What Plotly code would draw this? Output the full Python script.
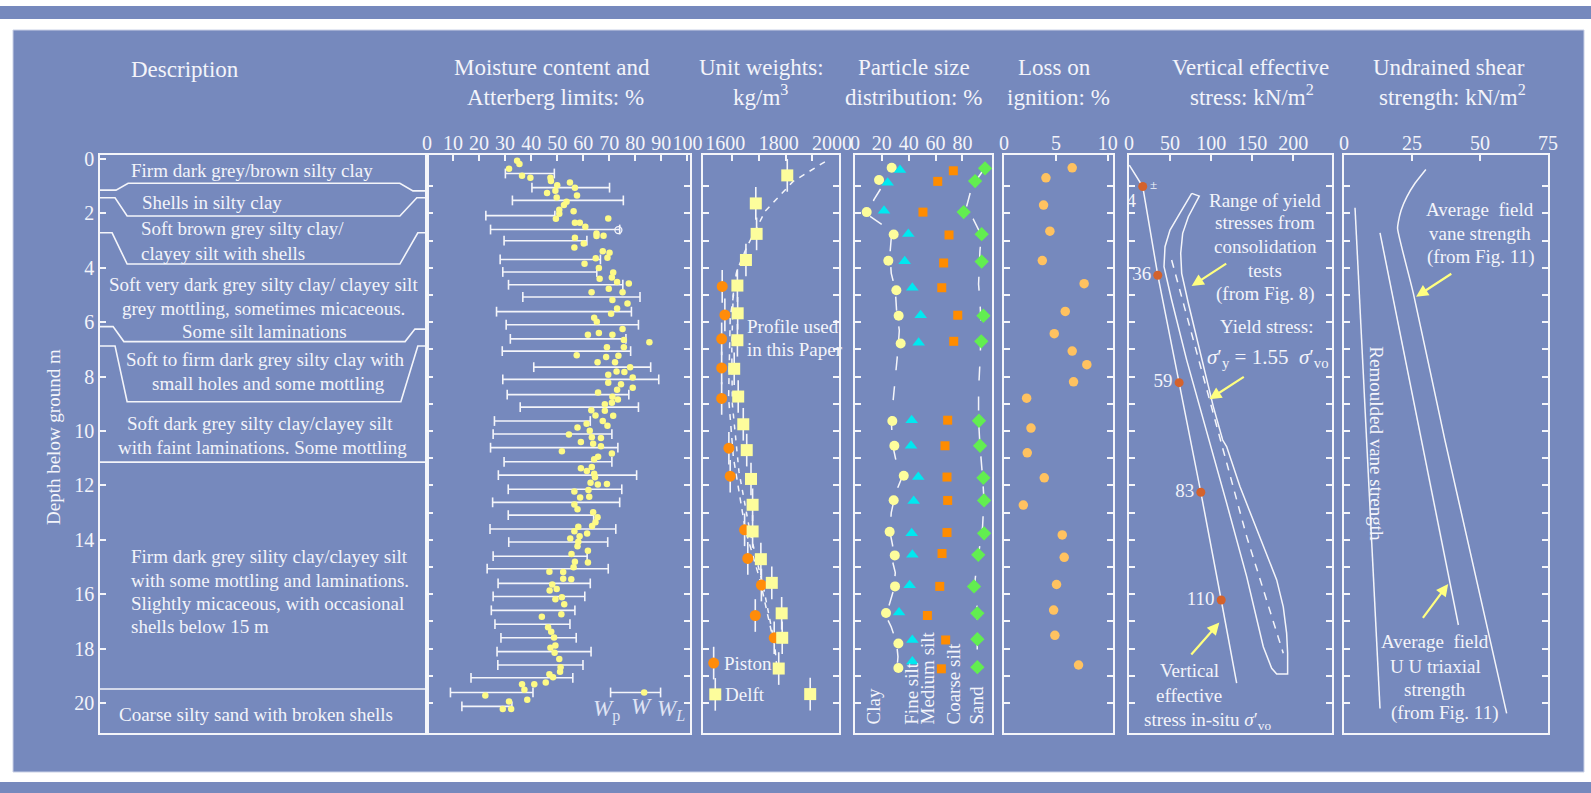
import plotly.graph_objects as go

W, H = 1591, 793
SERIF = "Liberation Serif"
TXT = "#f3f4fa"
LINE = "#f4f5fa"
BLUE = "#7689bd"
ARROW = "#ffff80"

# ---------------- data ----------------
depth_range = [21.1, -0.15]
depth_label_ticks = [0, 2, 4, 6, 8, 10, 12, 14, 16, 18, 20]
depth_minor_ticks = list(range(1, 21))

# Description: layer boundaries (x as fraction of panel width, depth m)
bound_x = [
    [0, 0.049, 0.086, 0.917, 0.957, 1],
    [0, 0.046, 0.083, 0.917, 0.969, 1],
    [0, 0.037, 0.083, 0.917, 0.972, 1],
    [0, 0.040, 0.073, 0.933, 0.963, 1],
    [0, 0.046, 0.083, 0.920, 0.972, 1],
    [0, 1],
    [-0.006, 1],
]
bound_d = [
    [1.14, 1.14, 0.89, 0.89, 1.17, 1.17],
    [1.42, 1.42, 2.09, 2.09, 1.42, 1.42],
    [2.71, 2.71, 3.86, 3.86, 2.71, 2.71],
    [6.16, 6.16, 6.71, 6.71, 6.25, 6.25],
    [6.87, 6.87, 8.92, 8.92, 6.87, 6.87],
    [11.14, 11.14],
    [19.48, 19.48],
]
desc_lines = [
    "Firm dark grey/brown silty clay",
    "Shells in silty clay",
    "Soft brown grey silty clay/",
    "clayey silt with shells",
    "Soft very dark grey silty clay/ clayey silt",
    "grey mottling, sometimes micaceous.",
    "Some silt laminations",
    "Soft to firm dark grey silty clay with",
    "small holes and some mottling",
    "Soft dark grey silty clay/clayey silt",
    "with faint laminations. Some mottling",
    "Firm dark grey sility clay/clayey silt",
    "with some mottling and laminations.",
    "Slightly micaceous, with occasional",
    "shells below 15 m",
    "Coarse silty sand with broken shells",
]

# Moisture content (natural water content %)
wn_value = [34.6, 35.5, 31.5, 36.5, 39.7, 47.4, 47.6, 54.9, 50.0, 56.8,
            49.3, 46.1, 57.6, 49.8, 53.6, 52.6, 50.8, 56.3, 50.8, 49.5,
            69.6, 56.8, 58.7, 60.8, 65.1, 65.1, 67.8, 56.8, 60.2, 56.6,
            67.5, 70.1, 64.8, 69.3, 60.5, 66.0, 71.5, 71.0, 66.3, 73.0,
            77.5, 69.8, 75.1, 63.2, 71.2, 77.0, 73.0, 70.7, 64.2, 65.2,
            75.1, 66.0, 61.8, 71.2, 75.6, 85.4, 75.6, 69.1, 57.5, 68.8,
            73.5, 65.5, 72.2, 78.0, 72.8, 75.8, 69.6, 79.0, 69.6, 74.5,
            79.0, 73.0, 65.7, 71.2, 73.3, 68.3, 71.0, 63.1, 68.3, 71.5,
            64.7, 67.5, 61.3, 69.3, 57.8, 62.5, 54.5, 63.3, 66.8, 59.1,
            63.8, 66.8, 51.8, 71.0, 65.7, 64.2, 63.3, 59.1, 61.4, 64.2,
            64.5, 62.8, 65.6, 69.1, 62.0, 56.6, 62.3, 58.8, 56.6, 57.8,
            63.8, 65.5, 64.7, 63.4, 58.1, 56.6, 61.5, 58.6, 55.0, 58.1,
            57.8, 61.8, 55.5, 61.8, 56.8, 56.3, 47.0, 52.3, 52.3, 55.4,
            48.1, 47.1, 49.8, 51.8, 49.3, 52.7, 51.6, 44.1, 46.5, 47.7,
            48.8, 49.3, 47.4, 49.0, 50.8, 51.3, 51.1, 47.0, 48.4, 45.6,
            41.2, 36.5, 37.4, 22.4, 38.5, 31.5, 29.1, 32.3]
wn_depth = [0.06, 0.18, 0.36, 0.61, 0.69, 0.69, 0.81, 0.86, 0.96, 1.05,
            1.16, 1.25, 1.34, 1.41, 1.57, 1.69, 1.86, 1.92, 2.01, 2.19,
            2.18, 2.34, 2.34, 2.49, 2.74, 2.83, 2.82, 2.89, 3.10, 3.25,
            3.39, 3.44, 3.65, 3.63, 3.85, 4.00, 4.17, 4.35, 4.40, 4.52,
            4.57, 4.77, 4.90, 4.90, 5.18, 5.31, 5.49, 5.69, 5.83, 5.98,
            6.25, 6.39, 6.46, 6.46, 6.65, 6.73, 6.92, 6.92, 7.21, 7.28,
            7.23, 7.47, 7.47, 7.65, 7.81, 7.83, 7.93, 8.03, 8.22, 8.28,
            8.41, 8.48, 8.58, 8.74, 8.84, 9.01, 8.96, 9.23, 9.25, 9.44,
            9.43, 9.63, 9.73, 9.80, 9.87, 9.99, 10.13, 10.23, 10.25, 10.40,
            10.47, 10.56, 10.74, 10.82, 10.94, 11.04, 11.32, 11.37, 11.47, 11.57,
            11.70, 11.90, 11.96, 11.95, 12.17, 12.22, 12.41, 12.44, 12.70, 12.87,
            12.98, 13.17, 13.35, 13.49, 13.52, 13.68, 13.77, 13.87, 13.95, 14.07,
            14.23, 14.40, 14.52, 14.83, 14.80, 15.01, 15.17, 15.18, 15.43, 15.45,
            15.64, 15.86, 15.81, 16.11, 16.18, 16.37, 16.73, 16.83, 17.21, 17.38,
            17.59, 17.88, 17.97, 18.15, 18.38, 18.68, 18.85, 18.94, 19.05, 19.24,
            19.31, 19.31, 19.51, 19.72, 19.88, 19.94, 20.22, 20.22]
# Atterberg limits: plastic limit Wp, liquid limit WL
lim_depth = [0.53, 1.05, 1.52, 2.08, 2.59, 3.00, 3.69, 4.15, 4.62, 5.07,
             5.61, 6.09, 6.61, 7.06, 7.65, 8.10, 8.66, 9.12, 9.63, 10.11,
             10.61, 11.13, 11.62, 12.14, 12.62, 13.09, 13.60, 14.08, 14.60, 15.06,
             15.60, 16.08, 16.59, 17.10, 17.60, 18.11, 18.60, 19.07, 19.61, 20.12]
wp = [30.1, 40.3, 32.8, 22.6, 24.4, 29.6, 28.1, 29.1, 31.3, 36.8,
      26.7, 30.4, 32.0, 28.9, 41.0, 29.1, 30.8, 35.8, 25.9, 25.4,
      24.4, 29.6, 27.4, 31.2, 25.2, 31.2, 24.2, 31.4, 25.4, 23.1,
      27.3, 25.4, 24.7, 26.1, 28.4, 26.9, 27.2, 16.9, 9.0, 13.4]
wl = [48.9, 70.1, 75.4, 49.1, 74.0, 61.4, 66.6, 65.2, 75.2, 81.8,
      78.5, 81.2, 76.4, 78.2, 85.9, 89.0, 77.5, 81.2, 62.7, 71.0,
      73.3, 71.0, 80.5, 74.8, 74.0, 64.0, 72.5, 69.4, 61.5, 69.6,
      62.7, 60.6, 56.8, 54.9, 57.3, 63.0, 59.9, 56.0, 40.7, 32.6]
wl_open_value = [73.5]
wl_open_depth = [2.61]
key_limits = [70.5, 89.7]
key_wn = [83.4]
key_depth = [19.61]

# Unit weights kg/m3
delft_uw = [1806, 1688, 1691, 1651, 1619, 1620, 1619, 1607, 1622, 1641,
            1654, 1670, 1676, 1676, 1707, 1748, 1785, 1787, 1774, 1892]
delft_depth = [0.60, 1.63, 2.75, 3.71, 4.65, 5.67, 6.66, 7.71, 8.73, 9.75,
               10.70, 11.76, 12.71, 13.69, 14.71, 15.58, 16.70, 17.60, 18.73, 19.67]
piston_uw = [1562, 1572, 1560, 1560, 1560, 1587, 1592, 1646, 1658, 1709, 1686, 1757]
piston_depth = [4.68, 5.73, 6.61, 7.68, 8.80, 10.63, 11.66, 13.63, 14.68, 15.66, 16.78, 17.60]
profile_uw = [1947, 1828, 1723, 1654, 1617, 1592, 1586, 1604, 1648, 1704, 1760, 1766]
profile_depth = [0.10, 0.82, 1.92, 3.24, 4.11, 5.86, 8.78, 10.97, 13.59, 15.49, 17.97, 18.6]
profile2_uw = [1617, 1603, 1598, 1600, 1625, 1668, 1718, 1752]
profile2_depth = [4.11, 5.0, 7.0, 9.0, 11.5, 13.8, 15.8, 17.5]
key_piston = [1530, 18.53]
key_delft = [1536, 19.68]

# Particle size distribution (cumulative %)
clay_v = [27.3, 17.9, 8.7, 28.8, 24.8, 30.8, 32.5, 34.0, 27.8, 29.3, 36.3, 28.8, 25.8, 29.6, 29.8, 23.1, 32.3, 32.3]
clay_d = [0.32, 0.77, 1.95, 2.77, 3.74, 4.82, 5.76, 6.78, 9.63, 10.54, 11.64, 12.54, 13.70, 14.57, 15.71, 16.69, 17.81, 18.71]
fine_v = [33.5, 24.3, 21.6, 39.7, 37.0, 42.7, 48.9, 47.4, 42.2, 41.7, 47.1, 43.7, 42.2, 42.7, 40.7, 32.8, 42.7, 42.7]
fine_d = [0.40, 0.87, 1.90, 2.75, 3.76, 4.73, 5.74, 6.75, 9.60, 10.54, 11.69, 12.57, 13.76, 14.55, 15.67, 16.67, 17.68, 18.47]
med_v = [73.2, 61.6, 50.6, 70.0, 66.0, 64.6, 76.5, 73.5, 69.0, 67.0, 68.5, 69.0, 68.5, 64.8, 63.1, 53.9, 67.5, 64.3]
med_d = [0.43, 0.82, 1.95, 2.79, 3.82, 4.73, 5.74, 6.70, 9.60, 10.54, 11.69, 12.55, 13.73, 14.50, 15.71, 16.78, 17.68, 18.74]
coarse_v = [96.8, 89.4, 80.9, 94.3, 94.3, 95.6, 94.0, 92.3, 93.1, 95.6, 96.1, 96.1, 91.8, 88.6, 91.1, 91.1, 91.1]
coarse_d = [0.34, 0.81, 1.95, 2.76, 3.77, 5.76, 6.70, 9.62, 10.54, 11.72, 12.55, 13.76, 14.55, 15.71, 16.70, 17.65, 18.68]
clay_line_v = [19, 14, 11, 20, 27, 26, 27, 30, 31, 33, 32, 30, 28, 27, 28, 31, 35, 30, 27, 26, 28, 28, 30, 29, 26, 23, 27, 31, 32, 31]
clay_line_d = [1.1, 1.5, 2.1, 2.4, 2.9, 3.5, 4.2, 4.8, 5.6, 6.3, 7.0, 8.0, 9.0, 9.6, 10.5, 11.2, 11.7, 12.3, 13.0, 13.7, 14.2, 14.8, 15.2, 15.8, 16.3, 16.8, 17.2, 17.8, 18.3, 18.9]
sand_line_v = [97, 90, 86, 82, 88, 94, 93, 92, 93, 94, 93, 92, 92, 93, 95, 96, 95, 92, 90, 89, 91, 91, 91]
sand_line_d = [0.3, 0.8, 1.2, 1.95, 2.2, 2.8, 3.4, 4.6, 5.2, 6.2, 7.5, 8.5, 9.6, 10.5, 11.7, 12.5, 13.5, 14.5, 15.2, 15.7, 16.5, 17.6, 18.8]
psd_labels = ["Clay", "Fine silt", "Medium silt", "Coarse silt", "Sand"]

# Loss on ignition %
loi_v = [6.57, 4.04, 3.81, 4.42, 3.69, 7.72, 5.90, 4.84, 6.57, 7.98, 6.70, 2.18, 2.60,
         2.24, 3.88, 1.86, 5.61, 5.80, 5.06, 4.78, 4.90, 7.18]
loi_d = [0.32, 0.69, 1.69, 2.65, 3.73, 4.58, 5.60, 6.42, 7.06, 7.56, 8.19, 8.79, 9.89,
         10.80, 11.72, 12.72, 13.82, 14.64, 15.64, 16.58, 17.51, 18.60]

# Vertical effective stress kN/m2
insitu_v = [0.4, 16.7, 35, 61, 87.4, 112.2, 131]
insitu_d = [0.22, 1.01, 4.27, 8.22, 12.25, 16.21, 19.27]
pt_v = [16.7, 35, 61, 87.4, 112.2]
pt_d = [1.01, 4.27, 8.22, 12.25, 16.21]
pt_labels = ["4", "36", "59", "83", "110"]
env_v = [76.3, 85.5, 72.2, 65.3, 62.9, 64.1, 72.2, 86.3, 102.6, 114, 118.8, 135, 151.2, 167.5,
         179.7, 187.7, 191.8, 193, 193, 179.7, 173.6, 163.4, 143.2, 118.8, 90.4, 70.2, 51.9,
         42.6, 43.8, 49.9, 62, 76.3]
env_d = [1.26, 1.36, 2.12, 2.73, 3.46, 4.20, 5.30, 7.02, 9.10, 10.33, 10.57, 12.04, 13.27, 14.49,
         15.47, 16.46, 17.43, 18.17, 18.93, 18.93, 18.72, 17.93, 15.35, 12.65, 9.59, 7.39, 5.18,
         3.96, 3.22, 2.61, 1.99, 1.26]
yield_v = [51.9, 98.5, 143.2, 187.7]
yield_d = [3.71, 8.86, 13.88, 18.17]

# Undrained shear strength kN/m2
remould_v = [4.05, 13.24]
remould_d = [1.79, 20.2]
uu_v = [13.24, 42.06]
uu_d = [2.71, 17.13]
vane_v = [30.1, 26.1, 23.1, 21.0, 20.0, 19.7, 25.5, 37.1, 59.8]
vane_d = [0.38, 0.89, 1.39, 1.88, 2.3, 2.55, 4.94, 10.33, 20.38]

# ---------------- layout helpers ----------------
Y_TOP, Y_BOT = 155, 733
YDOM = [1 - Y_BOT / H, 1 - Y_TOP / H]
panels = [  # (left px, right px)
    (100, 427), (427, 690), (703, 839), (855, 992), (1004, 1113), (1129, 1332), (1344, 1548)
]


def px(x):
    return x / W


def py(y):
    return 1 - y / H


fig = go.Figure()


def xname(i):
    return "x" if i == 1 else f"x{i}"


def yname(i):
    return "y" if i == 1 else f"y{i}"


def add(trace, i):
    trace.update(xaxis=xname(i), yaxis=yname(i), showlegend=False, hoverinfo="skip")
    fig.add_trace(trace)


# Description boundaries
for bx, bd in zip(bound_x, bound_d):
    add(go.Scatter(x=bx, y=bd, mode="lines", line=dict(color=LINE, width=1.6)), 1)

# Moisture: Atterberg range bars
ex, ey = [], []
for d, a, b in zip(lim_depth, wp, wl):
    ex += [a, b, None]
    ey += [d, d, None]
add(go.Scatter(x=ex, y=ey, mode="lines+markers", line=dict(color=LINE, width=1.6),
               marker=dict(symbol="line-ns", size=7, line=dict(color=LINE, width=1.6))), 2)
add(go.Scatter(x=key_limits, y=key_depth * 2, mode="lines+markers", line=dict(color=LINE, width=1.6),
               marker=dict(symbol="line-ns", size=7, line=dict(color=LINE, width=1.6))), 2)
add(go.Scatter(x=wn_value, y=wn_depth, mode="markers",
               marker=dict(size=6.5, color="#fdfa86")), 2)
add(go.Scatter(x=key_wn, y=key_depth, mode="markers", marker=dict(size=6.5, color="#fdfa86")), 2)
add(go.Scatter(x=wl_open_value, y=wl_open_depth, mode="markers",
               marker=dict(size=7, symbol="circle-open", color=LINE, line=dict(width=1.3))), 2)

# Unit weights
add(go.Scatter(x=profile_uw, y=profile_depth, mode="lines",
               line=dict(color=LINE, width=1.5, dash="6px,6px")), 3)
add(go.Scatter(x=profile2_uw, y=profile2_depth, mode="lines",
               line=dict(color=LINE, width=1.5, dash="5px,6px")), 3)
err = dict(type="constant", value=0.6, color=LINE, thickness=1.6, width=0)
add(go.Scatter(x=piston_uw + [key_piston[0]], y=piston_depth + [key_piston[1]], mode="markers",
               error_y=err, marker=dict(size=11, color="#ff8c0a")), 3)
add(go.Scatter(x=delft_uw + [key_delft[0]], y=delft_depth + [key_delft[1]], mode="markers",
               error_y=err, marker=dict(size=12, symbol="square", color="#fdfd9c")), 3)

# Particle size
add(go.Scatter(x=clay_line_v, y=clay_line_d, mode="lines",
               line=dict(color=LINE, width=1.5, dash="14px,16px")), 4)
add(go.Scatter(x=sand_line_v, y=sand_line_d, mode="lines",
               line=dict(color=LINE, width=1.5, dash="14px,16px")), 4)
add(go.Scatter(x=clay_v, y=clay_d, mode="markers", marker=dict(size=10, color="#fdfd9c")), 4)
add(go.Scatter(x=fine_v, y=fine_d, mode="markers",
               marker=dict(size=11, symbol="triangle-up", color="#00e8f0")), 4)
add(go.Scatter(x=med_v, y=med_d, mode="markers",
               marker=dict(size=9, symbol="square", color="#ff8c00")), 4)
add(go.Scatter(x=coarse_v, y=coarse_d, mode="markers",
               marker=dict(size=11, symbol="diamond", color="#62ee50")), 4)

# Loss on ignition
add(go.Scatter(x=loi_v, y=loi_d, mode="markers", marker=dict(size=9.5, color="#ffc260")), 5)

# Vertical effective stress
add(go.Scatter(x=env_v, y=env_d, mode="lines", line=dict(color=LINE, width=1.5)), 6)
add(go.Scatter(x=yield_v, y=yield_d, mode="lines", line=dict(color=LINE, width=1.5, dash="8px,7px")), 6)
add(go.Scatter(x=insitu_v, y=insitu_d, mode="lines", line=dict(color=LINE, width=1.5)), 6)
add(go.Scatter(x=pt_v, y=pt_d, mode="markers+text", text=pt_labels,
               textposition=["bottom left", "middle left", "middle left", "middle left", "middle left"],
               textfont=dict(family=SERIF, size=19, color=TXT),
               marker=dict(size=9, color="#d4622c")), 6)

# Undrained shear strength
add(go.Scatter(x=remould_v, y=remould_d, mode="lines", line=dict(color=LINE, width=1.5)), 7)
add(go.Scatter(x=uu_v, y=uu_d, mode="lines", line=dict(color=LINE, width=1.5)), 7)
add(go.Scatter(x=vane_v, y=vane_d, mode="lines", line=dict(color=LINE, width=1.5, shape="spline", smoothing=0.6)), 7)

# ---------------- axes ----------------
tickfont = dict(family=SERIF, size=20, color=TXT)
x_specs = [
    dict(range=[0, 1], tickvals=[], ticks=""),
    dict(range=[0, 101], tickvals=list(range(0, 101, 10))),
    dict(range=[1490, 2000], tickvals=[1600, 1800, 2000], ticklabelshift=-7,
         minor=dict(tickvals=[1700, 1900], ticks="inside", ticklen=6, tickwidth=1.5, tickcolor=LINE,
                    showgrid=False)),
    dict(range=[0, 102], tickvals=[0, 20, 40, 60, 80]),
    dict(range=[0, 10.5], tickvals=[0, 5, 10]),
    dict(range=[0, 247], tickvals=[0, 50, 100, 150, 200]),
    dict(range=[0, 75], tickvals=[0, 25, 50, 75]),
]
y_mirror = [True, "ticks", "ticks", True, "ticks", "ticks", "ticks"]

layout_axes = {}
for i, ((l, r), xs, ym) in enumerate(zip(panels, x_specs, y_mirror), start=1):
    xa = dict(domain=[px(l), px(r)], anchor=yname(i), side="top", showline=True, mirror=True,
              linecolor=LINE, linewidth=1.6, ticks="inside", ticklen=6, tickwidth=1.5,
              tickcolor=LINE, tickfont=tickfont, tickangle=0, automargin=False,
              ticklabelstandoff=-5, showgrid=False, zeroline=False, fixedrange=True)
    xa.update(xs)
    ya = dict(domain=YDOM, anchor=xname(i), range=depth_range, showline=True, mirror=ym,
              linecolor=LINE, linewidth=1.6, ticks="inside", ticklen=6, tickwidth=1.5,
              tickcolor=LINE, automargin=False, showgrid=False, zeroline=False, fixedrange=True)
    if i == 1:
        ya.update(tickvals=depth_label_ticks, showticklabels=True,
                  tickfont=dict(family=SERIF, size=20, color=TXT), ticklabelstandoff=0)
    else:
        ya.update(tickvals=depth_minor_ticks, showticklabels=False)
    layout_axes["xaxis" if i == 1 else f"xaxis{i}"] = xa
    layout_axes["yaxis" if i == 1 else f"yaxis{i}"] = ya

# ---------------- annotations ----------------
ann = []


def text(t, x, y, size=19, xanchor="center", yanchor="middle", angle=0, color=TXT, **kw):
    d = dict(text=t, x=px(x), y=py(y), xref="paper", yref="paper", showarrow=False,
             font=dict(family=SERIF, size=size, color=color), xanchor=xanchor, yanchor=yanchor,
             textangle=angle)
    d.update(kw)
    ann.append(d)


titles = [
    ("Description", 184.7, 69), ("Moisture content and", 552, 68), ("Atterberg limits: %", 555.5, 97),
    ("Unit weights:", 761.6, 68), ("kg/m<sup>3</sup>", 760, 96),
    ("Particle size", 914, 68), ("distribution: %", 914, 97),
    ("Loss on", 1054, 68), ("ignition: %", 1058, 97),
    ("Vertical effective", 1250, 68), ("stress: kN/m<sup>2</sup>", 1252, 96),
    ("Undrained shear", 1449, 68), ("strength: kN/m<sup>2</sup>", 1452, 96),
]
for t, x, y in titles:
    text(t, x, y, size=23)

text("Depth below ground m", 53, 437, size=19, angle=-90)

desc_pos = [(252, 170, "center"), (211.7, 202.7, "center"), (139, 229, "left"), (139, 253.3, "left"),
            (263.8, 284, "center"), (263.8, 308.3, "center"), (264, 331, "center"),
            (265, 359, "center"), (268, 383.3, "center"), (259.7, 423.3, "center"),
            (262, 447, "center"), (129.3, 556, "left"), (129.3, 580, "left"),
            (129.3, 603.3, "left"), (129.3, 626.7, "left"), (256, 714, "center")]
for t, (x, y, a) in zip(desc_lines, desc_pos):
    text(t, x, y, size=19, xanchor=a)

# moisture key
KEYC = "#dfe3f4"
text("<i>W</i><sub>p</sub>", 606, 710, size=23, color=KEYC)
text("<i>W</i>", 641.7, 706, size=23, color=KEYC)
text("<i>W<sub>L</sub></i>", 670.5, 710, size=23, color=KEYC)

# unit weights
text("Piston", 721.7, 663, xanchor="left")
text("Delft", 723.3, 694, xanchor="left")
text("Profile used", 745, 326, xanchor="left")
text("in this Paper", 745, 349, xanchor="left")

# particle size labels
for t, x in zip(psd_labels, [872.5, 910.7, 927, 953, 976]):
    text(t, x, 727, size=19, yanchor="bottom", angle=-90)

# stress panel
for t, y in zip(["Range of yield", "stresses from", "consolidation", "tests", "(from Fig. 8)"],
                [200, 222.7, 246.7, 270.7, 294.3]):
    text(t, 1265, y)
text("Yield stress:", 1266.7, 326.7)
text("<i>σ</i>′<sub>y</sub> = 1.55  <i>σ</i>′<sub>vo</sub>", 1268, 358, size=21)
text("Vertical", 1189.3, 670)
text("effective", 1189.3, 695)
text("stress in-situ <i>σ</i>′<sub>vo</sub>", 1207, 721, size=19)
text("±", 1153.3, 184, size=13)

# undrained panel
for t, y in zip(["Average\u00a0\u00a0field", "vane strength", "(from Fig. 11)"], [210, 233.3, 256.7]):
    text(t, 1480, y)
text("Remoulded vane strength", 1376.7, 444, angle=90)
for t, x, y in zip(["Average\u00a0\u00a0field", "U U triaxial", "strength", "(from Fig. 11)"],
                   [1435, 1435, 1435, 1444], [641.7, 666, 689.3, 713.3]):
    text(t, x, y)

# pointer arrows (head x, head y, tail x, tail y in the panel's data units)
arrows = [
    (6, 76.2, 4.67, 120.1, 3.81),
    (6, 97.7, 8.83, 141.5, 7.97),
    (6, 109.9, 17.04, 74.2, 18.27),
    (7, 26.5, 5.06, 40.0, 4.18),
    (7, 38.3, 15.62, 28.6, 16.92),
]
for i, hx, hy, tx, ty in arrows:
    ann.append(dict(x=hx, y=hy, ax=tx, ay=ty, xref=xname(i), yref=yname(i), axref=xname(i),
                    ayref=yname(i), text="", showarrow=True, arrowhead=2, arrowsize=1.1,
                    arrowwidth=2.2, arrowcolor=ARROW))

# ---------------- background ----------------
shapes = [
    dict(type="rect", xref="paper", yref="paper", x0=0, x1=1, y0=py(19), y1=py(6),
         fillcolor=BLUE, line=dict(width=0), layer="below"),
    dict(type="rect", xref="paper", yref="paper", x0=px(13), x1=px(1584), y0=py(772), y1=py(30),
         fillcolor=BLUE, line=dict(width=1, color="#c9d0e6"), layer="below"),
    dict(type="rect", xref="paper", yref="paper", x0=0, x1=1, y0=0, y1=py(782),
         fillcolor=BLUE, line=dict(width=0), layer="below"),
]

fig.update_layout(
    width=W, height=H, margin=dict(l=0, r=0, t=0, b=0, pad=0, autoexpand=False),
    paper_bgcolor="white", plot_bgcolor="rgba(0,0,0,0)",
    showlegend=False, shapes=shapes, annotations=ann,
    font=dict(family=SERIF, color=TXT),
    **layout_axes,
)

fig.write_html("out.html")
